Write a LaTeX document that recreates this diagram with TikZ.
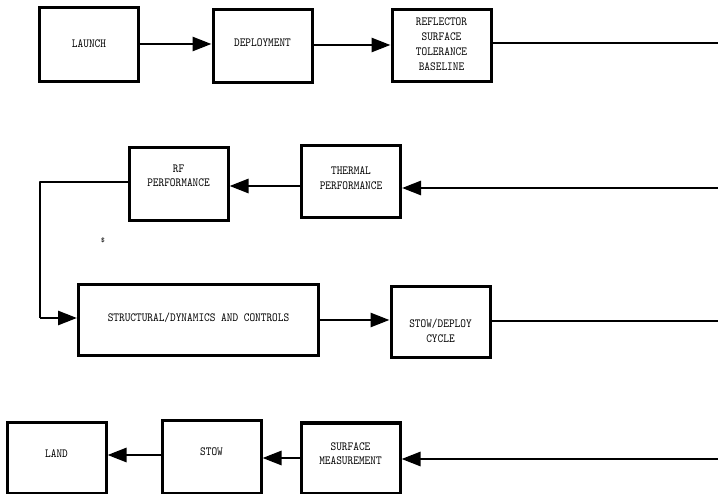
\documentclass[tikz,border=0pt]{standalone}
\usetikzlibrary{arrows.meta}
\newcommand\talltext[1]{\scalebox{1}[1.15]{\begin{tabular}{@{}c@{}}#1\end{tabular}}}
\begin{document}
\begin{tikzpicture}[x=1pt,y=-1pt,
  box/.style={draw, line width=3pt, minimum width=99pt, inner sep=0pt},
  lbl/.style={font=\ttfamily\fontsize{10.8}{13}\selectfont, align=center, inner sep=0pt},
  link/.style={line width=2.8pt, -{Triangle[length=19pt,width=14pt]}},
  wire/.style={line width=2.8pt}]
\useasboundingbox (0,0) rectangle (718,494);
% row 1
\node[box, minimum height=74pt] (launch) at (89,45) {};
\node[box, minimum height=73pt] (deploy) at (262.5,46.5) {};
\node[box, minimum height=72pt] (refl) at (441.5,46) {};
\node[lbl] (tlaunch) at (89,45) {\talltext{LAUNCH}};
\node[lbl] (tdeploy) at (262.5,44) {\talltext{DEPLOYMENT}};
\node[lbl] (trefl) at (441.5,45) {\talltext{REFLECTOR\\SURFACE\\TOLERANCE\\BASELINE}};
\coordinate (r1) at (718,43);
% row 2
\node[box, minimum height=73pt] (rf) at (178.5,184.5) {};
\node[box, minimum height=72pt] (therm) at (351,182) {};
\node[lbl] (trf) at (178.5,176.5) {\talltext{RF\\PERFORMANCE}};
\node[lbl] (ttherm) at (351,179) {\talltext{THERMAL\\PERFORMANCE}};
\coordinate (r2) at (718,188);
\coordinate (c1) at (40,182);
\coordinate (c2) at (40,318);
\node[lbl, font=\ttfamily\scriptsize] (mark) at (103,240) {\$};
% row 3
\node[box, minimum width=240pt, minimum height=71pt] (struct) at (198.5,320) {};
\node[box, minimum height=71pt] (stow1) at (440.5,322.5) {};
\node[lbl] (tstruct) at (198.5,319) {\talltext{STRUCTURAL/DYNAMICS AND CONTROLS}};
\node[lbl] (tstow1) at (440.5,332) {\talltext{STOW/DEPLOY\\CYCLE}};
\coordinate (r3) at (718,321);
% row 4
\node[box, minimum height=71pt] (land) at (56.5,458) {};
\node[box, minimum height=72pt] (stow) at (211.5,457) {};
\node[box, minimum height=70pt] (surf) at (350.5,458) {};
\node[lbl] (tland) at (56.5,455) {\talltext{LAND}};
\node[lbl] (tstow) at (211.5,453) {\talltext{STOW}};
\node[lbl] (tsurf) at (350.5,454.5) {\talltext{SURFACE\\MEASUREMENT}};
\coordinate (r4) at (718,459);
% connectors
\draw[link] (launch.east |- 0,44) -- (deploy.west |- 0,44);
\draw[link] (deploy.east |- 0,45) -- (refl.west |- 0,45);
\draw[wire] (refl.east |- r1) -- (r1);
\draw[link] (r2) -- (therm.east |- r2);
\draw[link] (therm.west |- 0,186) -- (rf.east |- 0,186);
\draw[wire, line join=round] (rf.west |- c1) -- (c1) -- (c2);
\draw[link] (c2) -- (struct.west |- c2);
\draw[link] (struct.east |- 0,320) -- (stow1.west |- 0,320);
\draw[wire] (stow1.east |- r3) -- (r3);
\draw[link] (r4) -- (surf.east |- r4);
\draw[link] (surf.west |- 0,458) -- (stow.east |- 0,458);
\draw[link] (stow.west |- 0,455) -- (land.east |- 0,455);
\end{tikzpicture}
\end{document}
